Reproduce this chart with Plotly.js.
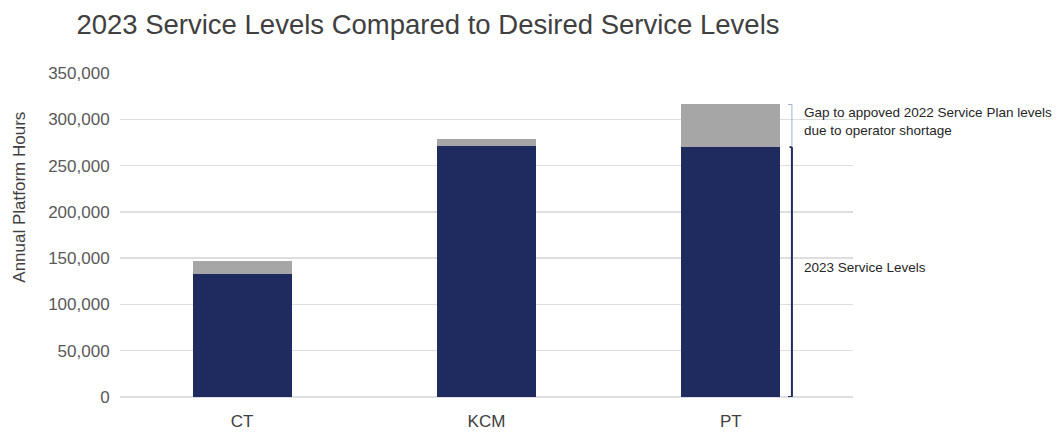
<!DOCTYPE html>
<html>
<head>
<meta charset="utf-8">
<script src="https://cdn.plot.ly/plotly-3.0.1.min.js"></script>
<style>
  html, body { margin: 0; padding: 0; background: #ffffff; }
  #chart { width: 1061px; height: 436px; }
</style>
</head>
<body>
<div id="chart"></div>
<script>
// Annual platform hours by agency
const categories = ['CT', 'KCM', 'PT'];
const serviceLevels2023 = [133000, 271000, 270000];   // hours operated in 2023
const shortageGap = [14000, 8000, 46000];             // gap to approved 2022 plan
const yTickValues = [0, 50000, 100000, 150000, 200000, 250000, 300000, 350000];
const yTickLabels = ['0', '50,000', '100,000', '150,000', '200,000', '250,000', '300,000', '350,000'];

const NAVY = '#1f2a5e';
const GREY = '#a6a6a6';
const FONT = 'Liberation Sans, Arial, sans-serif';

const traces = [
  {
    type: 'bar',
    name: '2023 Service Levels',
    x: categories,
    y: serviceLevels2023,
    marker: { color: NAVY, line: { width: 0 } },
    hoverinfo: 'x+y'
  },
  {
    type: 'bar',
    name: 'Gap',
    x: categories,
    y: shortageGap,
    marker: { color: GREY, line: { width: 0 } },
    hoverinfo: 'x+y'
  }
];

// Brackets beside the PT bar
const ptIdx = 2;
const ptBase = serviceLevels2023[ptIdx];
const ptTop = serviceLevels2023[ptIdx] + shortageGap[ptIdx];
const bx = ptIdx + 0.25;     // bracket position, in category units
const hook = 0.016;

const shapes = [
  // 2023 service level bracket
  { type: 'line', xref: 'x', yref: 'y', x0: bx, x1: bx, y0: 0, y1: ptBase,
    line: { color: NAVY, width: 2 } },
  { type: 'line', xref: 'x', yref: 'y', x0: bx - hook, x1: bx, y0: 0, y1: 0,
    line: { color: NAVY, width: 2 } },
  { type: 'line', xref: 'x', yref: 'y', x0: bx - hook * 0.6, x1: bx, y0: ptBase, y1: ptBase,
    line: { color: NAVY, width: 2 } },
  // gap bracket
  { type: 'line', xref: 'x', yref: 'y', x0: bx, x1: bx, y0: ptBase, y1: ptTop,
    line: { color: '#9fb0cc', width: 1 } },
  { type: 'line', xref: 'x', yref: 'y', x0: bx - hook, x1: bx, y0: ptTop, y1: ptTop,
    line: { color: '#9fb0cc', width: 1 } }
];

const annotations = [
  {
    xref: 'paper', yref: 'paper', x: 0.931, y: 0.85,
    xanchor: 'left', yanchor: 'middle', align: 'left', showarrow: false,
    text: 'Gap to appoved 2022 Service Plan levels<br>due to operator shortage',
    font: { family: FONT, size: 13.5, color: '#262626' }
  },
  {
    xref: 'paper', yref: 'paper', x: 0.931, y: 0.4,
    xanchor: 'left', yanchor: 'middle', align: 'left', showarrow: false,
    text: '2023 Service Levels',
    font: { family: FONT, size: 13.5, color: '#262626' }
  },
  {
    xref: 'paper', yref: 'paper', x: -0.137, y: 0.617,
    xanchor: 'center', yanchor: 'middle', showarrow: false, textangle: -90,
    text: 'Annual Platform Hours',
    font: { family: FONT, size: 17, color: '#404040' }
  }
];

const layout = {
  width: 1061,
  height: 436,
  margin: { l: 120, r: 207.5, t: 73, b: 39, pad: 0 },
  paper_bgcolor: '#ffffff',
  plot_bgcolor: '#ffffff',
  barmode: 'stack',
  bargap: 0.595,
  showlegend: false,
  title: {
    text: '2023 Service Levels Compared to Desired Service Levels',
    xref: 'container', yref: 'container',
    x: 0.072, xanchor: 'left', y: 0.943, yanchor: 'middle',
    font: { family: FONT, size: 27.5, color: '#404040' }
  },
  xaxis: {
    type: 'category',
    showgrid: false,
    showline: false,
    zeroline: false,
    ticks: 'outside', ticklen: 9, tickcolor: 'rgba(0,0,0,0)',
    tickfont: { family: FONT, size: 17, color: '#404040' }
  },
  yaxis: {
    range: [0, 350000],
    tickvals: yTickValues,
    ticktext: yTickLabels,
    showgrid: true,
    gridcolor: '#dedede',
    gridwidth: 1.5,
    zeroline: true,
    zerolinecolor: '#dedede',
    zerolinewidth: 1.5,
    showline: false,
    ticks: 'outside', ticklen: 6, tickcolor: 'rgba(0,0,0,0)',
    tickfont: { family: FONT, size: 17, color: '#595959' }
  },
  shapes: shapes,
  annotations: annotations,
  font: { family: FONT }
};

Plotly.newPlot('chart', traces, layout, { displayModeBar: false, staticPlot: true });
</script>
</body>
</html>
